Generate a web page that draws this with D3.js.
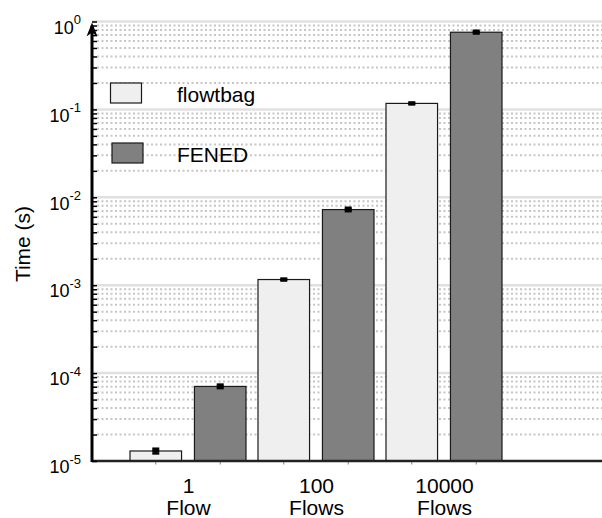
<!DOCTYPE html>
<html>
<head>
<meta charset="utf-8">
<script src="https://cdn.jsdelivr.net/npm/d3@7"></script>
<style>
  html, body { margin: 0; padding: 0; background: #fff; }
  svg { display: block; font-family: "Liberation Sans", Arial, Helvetica, sans-serif; }
</style>
</head>
<body>
<svg id="chart" width="602" height="518"></svg>
<script>
// ---- data ----
const categories = ["1 Flow", "100 Flows", "10000 Flows"];
const catLine1 = ["1", "100", "10000"];
const catLine2 = ["Flow", "Flows", "Flows"];
const seriesNames = ["flowtbag", "FENED"];
const flowtbag = [1.30e-5, 1.16e-3, 0.117];
const fened = [7.05e-5, 7.25e-3, 0.755];
const flowtbagLo = [1.22e-5, 1.13e-3, 0.114];
const flowtbagHi = [1.38e-5, 1.19e-3, 0.120];
const fenedLo = [6.75e-5, 6.95e-3, 0.73];
const fenedHi = [7.4e-5, 7.6e-3, 0.785];
const yTickValues = [1e-5, 1e-4, 1e-3, 1e-2, 1e-1, 1];
const yTickExp = ["-5", "-4", "-3", "-2", "-1", "0"];
const yLabel = "Time (s)";

// ---- styles ----
const colors = { flowtbag: "#efefef", FENED: "#808080" };
const font = "'Liberation Sans', Arial, Helvetica, sans-serif";

const svg = d3.select("#chart");
const axisX0 = 92, plotRight = 602, plotBottom = 461, plotTop = 21.5;

const y = d3.scaleLog().domain([1e-5, 1]).range([plotBottom, plotTop]);
const x = d3.scalePoint().domain(categories).range([188, 444]);
const xs = d3.scaleBand().domain(seriesNames).range([-58, 58]).paddingInner(0.2);
const bw = xs.bandwidth();

const allTicks = y.ticks();
const isMajor = v => Math.abs(Math.log10(v) - Math.round(Math.log10(v))) < 1e-9;

// ---- gridlines ----
const grid = svg.append("g");
grid.selectAll("line.minor")
  .data(allTicks.filter(v => !isMajor(v)))
  .join("line")
  .attr("x1", axisX0 + 5).attr("x2", plotRight)
  .attr("y1", d => y(d)).attr("y2", d => y(d))
  .attr("stroke", "#c6c6c6").attr("stroke-width", 2)
  .attr("stroke-dasharray", "2,2.5");
grid.selectAll("line.major")
  .data(yTickValues.filter(v => v > 1e-5))
  .join("line")
  .attr("x1", axisX0).attr("x2", plotRight)
  .attr("y1", d => y(d)).attr("y2", d => y(d))
  .attr("stroke", "#e0e0e0").attr("stroke-width", 2.5);

// ---- bars ----
const barData = [];
categories.forEach((c, i) => {
  barData.push({ cat: c, s: "flowtbag", v: flowtbag[i], lo: flowtbagLo[i], hi: flowtbagHi[i] });
  barData.push({ cat: c, s: "FENED", v: fened[i], lo: fenedLo[i], hi: fenedHi[i] });
});
svg.append("g").selectAll("rect")
  .data(barData)
  .join("rect")
  .attr("x", d => x(d.cat) + xs(d.s))
  .attr("y", d => y(d.v))
  .attr("width", bw)
  .attr("height", d => plotBottom - y(d.v))
  .attr("fill", d => colors[d.s])
  .attr("stroke", "#1a1a1a").attr("stroke-width", 1.2);

// ---- error bars ----
const eb = svg.append("g").attr("stroke", "#000");
barData.forEach(d => {
  const cx = x(d.cat) + xs(d.s) + bw / 2;
  eb.append("line").attr("x1", cx).attr("x2", cx).attr("y1", y(d.hi)).attr("y2", y(d.lo)).attr("stroke-width", 2);
  eb.append("line").attr("x1", cx - 3.5).attr("x2", cx + 3.5).attr("y1", y(d.hi)).attr("y2", y(d.hi)).attr("stroke-width", 2.5);
  eb.append("line").attr("x1", cx - 3.5).attr("x2", cx + 3.5).attr("y1", y(d.lo)).attr("y2", y(d.lo)).attr("stroke-width", 2.5);
  eb.append("line").attr("x1", cx - 3.5).attr("x2", cx + 3.5).attr("y1", y(d.v)).attr("y2", y(d.v)).attr("stroke-width", 2.5);
});

// ---- x axis ----
const xAxisG = svg.append("g").attr("transform", `translate(0,${plotBottom})`)
  .call(d3.axisBottom(x).tickSize(0).tickPadding(0).tickFormat(""));
xAxisG.select(".domain").remove();
xAxisG.selectAll(".tick text").remove();
xAxisG.selectAll(".tick").each(function(d, i) {
  const t = d3.select(this).append("text")
    .attr("text-anchor", "middle").attr("fill", "#000")
    .style("font-family", font).style("font-size", "21px");
  t.append("tspan").attr("x", 0).attr("y", 32).text(catLine1[i]);
  t.append("tspan").attr("x", 0).attr("y", 54).text(catLine2[i]);
});
// small ticks at bar centers
svg.append("g").selectAll("line")
  .data(barData)
  .join("line")
  .attr("x1", d => x(d.cat) + xs(d.s) + bw / 2)
  .attr("x2", d => x(d.cat) + xs(d.s) + bw / 2)
  .attr("y1", plotBottom).attr("y2", plotBottom + 3.5)
  .attr("stroke", "#888").attr("stroke-width", 1);
svg.append("line")
  .attr("x1", axisX0).attr("x2", plotRight)
  .attr("y1", plotBottom).attr("y2", plotBottom)
  .attr("stroke", "#222").attr("stroke-width", 2.5);

// ---- y axis ----
const yTicksG = svg.append("g").attr("transform", `translate(${axisX0},0)`)
  .call(d3.axisRight(y).tickValues(allTicks).tickSize(5).tickFormat(""));
yTicksG.select(".domain").remove();
yTicksG.selectAll(".tick line").attr("stroke", "#000").attr("stroke-width", 1.5);

const yLabG = svg.append("g").attr("transform", `translate(${axisX0},0)`)
  .call(d3.axisLeft(y).tickValues(yTickValues).tickSize(0).tickPadding(11).tickFormat(""));
yLabG.select(".domain").remove();
yLabG.selectAll(".tick text").each(function(d, i) {
  const t = d3.select(this)
    .attr("dy", null).attr("y", 11.7).attr("fill", "#000")
    .style("font-family", font).style("font-size", "18px");
  t.append("tspan").text("10");
  t.append("tspan").attr("dy", -9.5).style("font-size", "13px").text(yTickExp[i]);
});

svg.append("line")
  .attr("x1", axisX0).attr("x2", axisX0)
  .attr("y1", plotBottom + 1).attr("y2", plotTop + 4)
  .attr("stroke", "#000").attr("stroke-width", 3);
// arrow head
svg.append("path")
  .attr("d", `M${axisX0},${plotTop + 1} L${axisX0 + 5.5},${plotTop + 15} L${axisX0},${plotTop + 11} L${axisX0 - 5.5},${plotTop + 15} Z`)
  .attr("fill", "#000");

// y axis label
svg.append("text")
  .attr("transform", "translate(30,244) rotate(-90)")
  .attr("text-anchor", "middle").attr("fill", "#000")
  .style("font-family", font).style("font-size", "21px")
  .text(yLabel);

// ---- legend ----
const legend = svg.append("g");
const legendRows = [
  { name: "flowtbag", rx: 110.5, ry: 83, ty: 102 },
  { name: "FENED", rx: 112, ry: 143, ty: 162 }
];
legendRows.forEach(r => {
  legend.append("rect").attr("x", r.rx).attr("y", r.ry).attr("width", 31).attr("height", 20)
    .attr("fill", colors[r.name]).attr("stroke", "#1a1a1a").attr("stroke-width", 1.2);
  legend.append("text").attr("x", 177).attr("y", r.ty).attr("fill", "#000")
    .style("font-family", font).style("font-size", "21px").text(r.name);
});
</script>
</body>
</html>
